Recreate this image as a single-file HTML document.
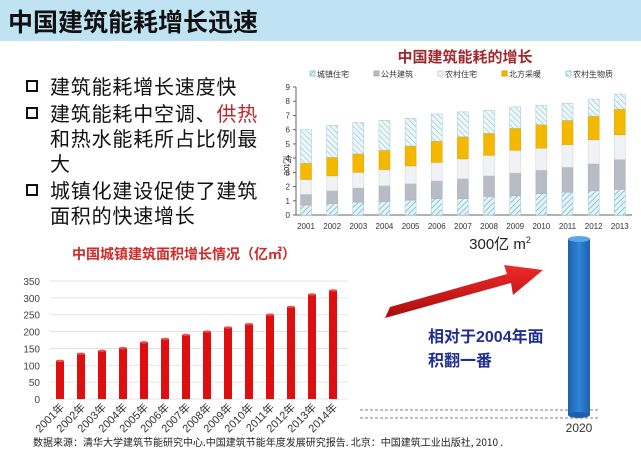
<!DOCTYPE html>
<html><head><meta charset="utf-8"><style>
body{margin:0;width:641px;height:459px;overflow:hidden;background:#fff;font-family:"Liberation Sans","Noto Sans CJK SC",sans-serif;position:relative}
.abs{position:absolute}
</style></head><body>
<div class="abs" style="left:0;top:0;width:641px;height:41px;background:#bfe3f3"></div>
<div class="abs" style="left:8px;top:3px;font-size:25px;font-weight:bold;color:#111;font-family:'Noto Sans CJK SC',sans-serif">中国建筑能耗增长迅速</div>
<div class="abs" style="left:26px;top:73px;font-size:20px;line-height:25px;color:#111;font-family:'Noto Sans CJK SC',sans-serif;letter-spacing:0.8px">
<div style="position:relative;padding-left:24px;width:215px;margin-bottom:2px"><span style="position:absolute;left:0;top:7px;width:8px;height:8px;border:2px solid #111"></span>建筑能耗增长速度快</div>
<div style="position:relative;padding-left:24px;width:215px;margin-bottom:2px"><span style="position:absolute;left:0;top:7px;width:8px;height:8px;border:2px solid #111"></span>建筑能耗中空调、<span style="color:#c0262b">供热</span>和热水能耗所占比例最大</div>
<div style="position:relative;padding-left:24px;width:215px"><span style="position:absolute;left:0;top:7px;width:8px;height:8px;border:2px solid #111"></span>城镇化建设促使了建筑面积的快速增长</div>
</div>
<svg class="abs" style="left:0;top:0" width="641" height="459">
<defs>
<pattern id="hatch" width="4" height="4" patternUnits="userSpaceOnUse" patternTransform="rotate(45)"><rect width="4" height="4" fill="#e6f4f8"/><line x1="0" y1="0" x2="0" y2="4" stroke="#6fb6cc" stroke-width="1.5"/></pattern>
<pattern id="wave" width="4" height="4" patternUnits="userSpaceOnUse" patternTransform="rotate(-45)"><rect width="4" height="4" fill="#eef7fa"/><line x1="0" y1="0" x2="0" y2="4" stroke="#8cc3d4" stroke-width="1.2"/></pattern>
<linearGradient id="cyl" x1="0" x2="1"><stop offset="0" stop-color="#1f5fae"/><stop offset="0.5" stop-color="#2f86d8"/><stop offset="1" stop-color="#1f5fae"/></linearGradient>
<linearGradient id="arr" x1="0" y1="1" x2="0" y2="0"><stop offset="0" stop-color="#a80d0d"/><stop offset="1" stop-color="#f02a2a"/></linearGradient>
</defs>
<g id="topChart"></g><g id="botChart"></g>
<text x="465" y="62" text-anchor="middle" font-size="15" font-weight="bold" fill="#a0282c" font-family="Noto Sans CJK SC,sans-serif">中国建筑能耗的增长</text>
<text x="284" y="155" font-size="9" fill="#333" transform="rotate(90 284 155)">亿tce</text>
<text x="184" y="259" text-anchor="middle" font-size="14" font-weight="bold" fill="#d02a2a" font-family="Noto Sans CJK SC,sans-serif">中国城镇建筑面积增长情况（亿㎡）</text>
<line x1="360" y1="410" x2="598" y2="410" stroke="#555" stroke-dasharray="3,2" stroke-width="0.8"/>
<line x1="360" y1="418" x2="598" y2="418" stroke="#555" stroke-dasharray="3,2" stroke-width="0.8"/>
<rect x="568" y="239" width="22" height="176" fill="url(#cyl)"/>
<ellipse cx="579" cy="239" rx="11" ry="3" fill="#5aa6e8"/>
<ellipse cx="579" cy="415" rx="11" ry="3" fill="#1f5fae"/>
<text x="579" y="432" text-anchor="middle" font-size="12" fill="#333">2020</text>
<text x="500" y="249" text-anchor="middle" font-size="15" fill="#222" font-family="Liberation Sans,Noto Sans CJK SC,sans-serif">300亿 m<tspan font-size="9" dy="-6">2</tspan></text>
<polygon points="390,307 385,318 511,283 513,295 543,270 504,265 507,274" fill="url(#arr)"/>
<text x="428" y="342" font-size="16" font-weight="bold" fill="#1f2e8f" font-family="Liberation Sans,Noto Sans CJK SC,sans-serif">相对于2004年面</text>
<text x="428" y="366" font-size="16" font-weight="bold" fill="#1f2e8f" font-family="Noto Sans CJK SC,sans-serif">积翻一番</text>
<text x="33" y="446" font-size="10" fill="#222" font-family="Noto Sans CJK SC,sans-serif">数据来源：清华大学建筑节能研究中心.中国建筑节能年度发展研究报告. 北京：中国建筑工业出版社, 2010 .</text>
</svg>
<script>
const years=["2001","2002","2003","2004","2005","2006","2007","2008","2009","2010","2011","2012","2013"];
const urban=[0.7,0.8,0.9,0.95,1.05,1.15,1.15,1.3,1.35,1.5,1.6,1.7,1.8];
const publicB=[0.75,0.9,1.0,1.1,1.15,1.25,1.4,1.45,1.6,1.65,1.75,1.9,2.1];
const rural=[1.05,1.05,1.1,1.15,1.25,1.3,1.4,1.45,1.6,1.55,1.6,1.7,1.75];
const northHeat=[1.15,1.3,1.3,1.35,1.4,1.5,1.55,1.55,1.55,1.65,1.7,1.65,1.8];
const biomass=[2.35,2.25,2.2,2.1,1.95,1.9,1.75,1.6,1.5,1.35,1.2,1.2,1.05];
const topTicks=[0,1,2,3,4,5,6,7,8,9];
const seriesNames=["城镇住宅","公共建筑","农村住宅","北方采暖","农村生物质"];
const areaYears=["2001年","2002年","2003年","2004年","2005年","2006年","2007年","2008年","2009年","2010年","2011年","2012年","2013年","2014年"];
const areaValues=[113,134,143,151,168,178,190,200,212,222,250,273,310,322];
const areaTicks=[0,50,100,150,200,250,300,350];

const NS="http://www.w3.org/2000/svg";
function mk(p,t,a){const e=document.createElementNS(NS,t);for(const k in a)e.setAttribute(k,a[k]);p.appendChild(e);return e;}
const topG=document.getElementById('topChart');
const tx=i=>306+i*26.15, ty=v=>215-v*(128/9);
topTicks.forEach(t=>{const l=mk(topG,'line',{x1:293,x2:296,y1:ty(t),y2:ty(t),stroke:'#666'});


const s=mk(topG,'text',{x:290,y:ty(t)+3,'text-anchor':'end','font-size':8,fill:'#333'});s.textContent=t;

});
mk(topG,'line',{x1:296,x2:296,y1:ty(9),y2:ty(0),stroke:'#666'});
mk(topG,'line',{x1:296,x2:632,y1:ty(0),y2:ty(0),stroke:'#666'});
const fills=['url(#hatch)','#b8bcc4','#f1f2f3','#f5b800','url(#wave)'];
const strokes=['#9cc7d4','#a9adb4','#cfd2d6','#d9a300','#9cc7d4'];
const series=[urban,publicB,rural,northHeat,biomass];
years.forEach((y,i)=>{let c=0;series.forEach((s,k)=>{const r=mk(topG,'rect',{x:tx(i)-5.5,y:ty(c+s[i]),width:11,height:ty(c)-ty(c+s[i]),fill:fills[k],stroke:strokes[k],'stroke-width':0.5});


c+=s[i];});
const t=mk(topG,'text',{x:tx(i),y:229,'text-anchor':'middle','font-size':8,fill:'#333'});t.textContent=y;

});
seriesNames.forEach((n,k)=>{const x=310+k*64;
const r=mk(topG,'rect',{x:x,y:71,width:5,height:5,fill:fills[k],stroke:strokes[k]});


const t=mk(topG,'text',{x:x+7,y:77,'font-size':8,fill:'#333','font-family':'Noto Sans CJK SC,sans-serif'});t.textContent=n;

});
const botG=document.getElementById('botChart');
const bx=i=>60+i*21, by=v=>399-v*(118/350);
areaTicks.forEach(t=>{const l=mk(botG,'line',{x1:50,x2:348,y1:by(t),y2:by(t),stroke:'#ddd','stroke-width':0.8});


const s=mk(botG,'text',{x:40,y:by(t)+4,'text-anchor':'end','font-size':10,fill:'#444'});s.textContent=t;

});
areaYears.forEach((y,i)=>{const b=mk(botG,'rect',{x:bx(i)-4,y:by(areaValues[i]),width:8,height:by(0)-by(areaValues[i]),fill:'#e00f0f'});


mk(botG,'ellipse',{cx:bx(i),cy:by(areaValues[i]),rx:4,ry:1.2,fill:'#f04a4a'});
const t=mk(botG,'text',{x:bx(i)+5,y:408,'text-anchor':'end','font-size':11,fill:'#333',transform:'rotate(-45 '+(bx(i)+5)+' 408)','font-family':'Liberation Sans,Noto Sans CJK SC,sans-serif'});t.textContent=y;

});
</script>
</body></html>
